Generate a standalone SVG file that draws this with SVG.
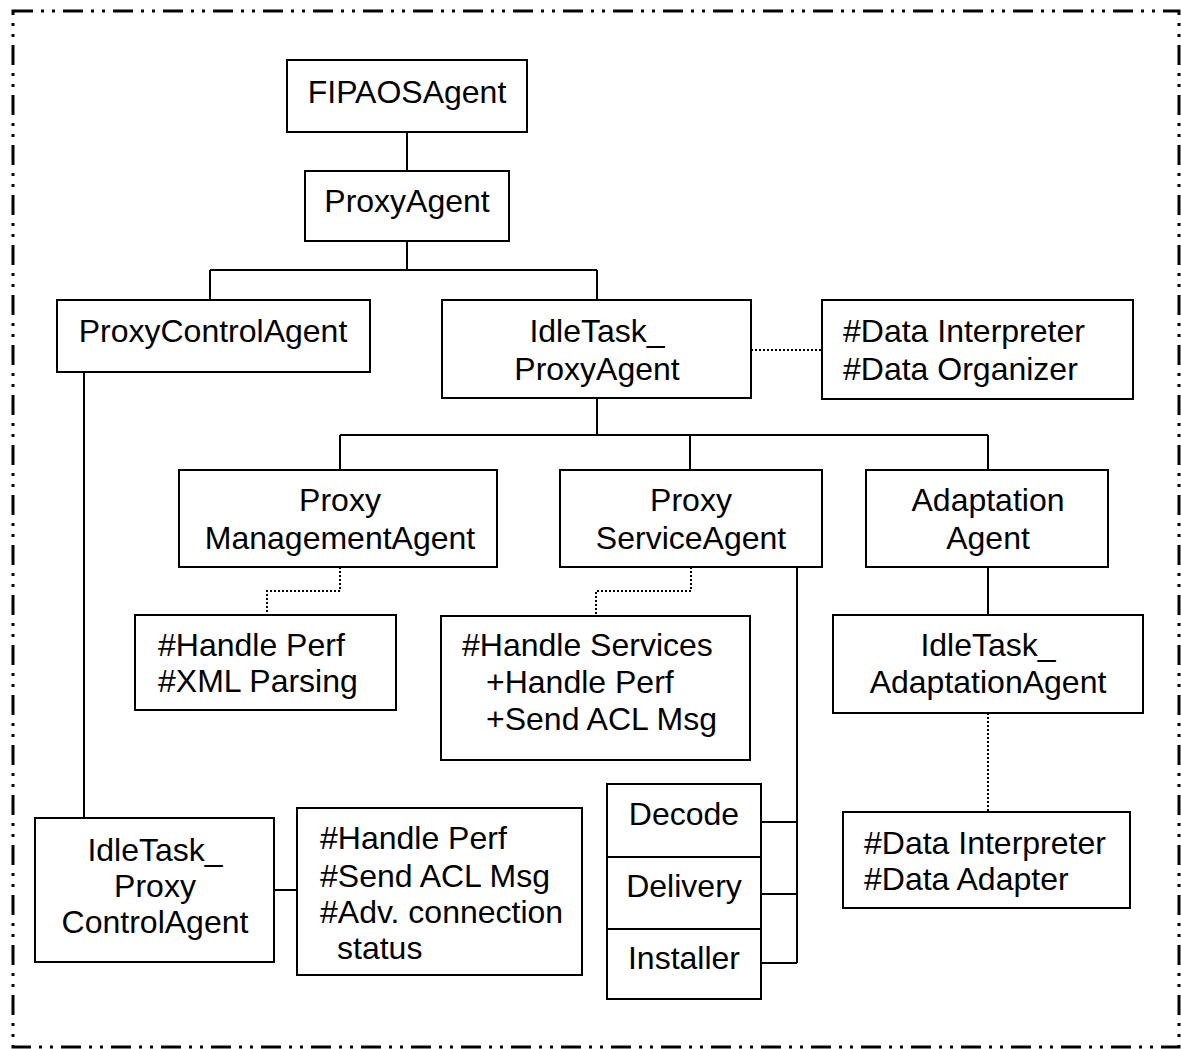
<svg xmlns="http://www.w3.org/2000/svg" width="1181" height="1049" viewBox="0 0 1181 1049">
  <style>
    .box { fill: #fff; stroke: #000; stroke-width: 2; }
    .ln { fill: none; stroke: #000; stroke-width: 2; }
    .dot { fill: none; stroke: #000; stroke-width: 2; stroke-dasharray: 2 2; }
    .frame { fill: none; stroke: #000; stroke-width: 3; stroke-dasharray: 20 8 3 8 3 8; }
    text { font-family: "Liberation Sans", Arial, sans-serif; font-size: 32px; fill: #000; }
    .c { text-anchor: middle; }
  </style>

  <!-- outer frame -->
  <rect class="frame" x="13" y="11" width="1166" height="1036"/>

  <!-- connectors -->
  <g id="connectors">
    <path class="ln" d="M407 132 V171"/>
    <path class="ln" d="M407 241 V270 M210 270 H597 M210 270 V300 M597 270 V300"/>
    <path class="dot" d="M751 350 H822"/>
    <path class="ln" d="M597 398 V435 M340 435 H988 M340 435 V470 M690 435 V470 M988 435 V470"/>
    <path class="dot" d="M340 567 V591 H267 V615"/>
    <path class="dot" d="M691 567 V591 H596 V616"/>
    <path class="ln" d="M797 567 V963 M761 822 H797 M761 894 H797 M761 963 H797"/>
    <path class="ln" d="M988 567 V615"/>
    <path class="dot" d="M988 713 V812"/>
    <path class="ln" d="M84 372 V818"/>
    <path class="ln" d="M274 890 H297"/>
  </g>

  <g id="fipaos">
    <rect class="box" x="287" y="60" width="240" height="72"/>
    <text class="c" x="407" y="103">FIPAOSAgent</text>
  </g>

  <g id="proxyAgent">
    <rect class="box" x="305" y="171" width="204" height="70"/>
    <text class="c" x="407" y="212">ProxyAgent</text>
  </g>

  <g id="proxyControlAgent">
    <rect class="box" x="57" y="300" width="313" height="72"/>
    <text class="c" x="213" y="342">ProxyControlAgent</text>
  </g>

  <g id="idleTaskProxyAgent">
    <rect class="box" x="442" y="300" width="309" height="98"/>
    <text class="c" x="597" y="342">IdleTask_</text>
    <text class="c" x="597" y="380">ProxyAgent</text>
  </g>

  <g id="proxyAgentMethods">
    <rect class="box" x="822" y="300" width="311" height="99"/>
    <text x="843" y="342">#Data Interpreter</text>
    <text x="843" y="380">#Data Organizer</text>
  </g>

  <g id="proxyManagementAgent">
    <rect class="box" x="179" y="470" width="318" height="97"/>
    <text class="c" x="340" y="511">Proxy</text>
    <text class="c" x="340" y="549">ManagementAgent</text>
  </g>

  <g id="proxyServiceAgent">
    <rect class="box" x="560" y="470" width="262" height="97"/>
    <text class="c" x="691" y="511">Proxy</text>
    <text class="c" x="691" y="549">ServiceAgent</text>
  </g>

  <g id="adaptationAgent">
    <rect class="box" x="866" y="470" width="242" height="97"/>
    <text class="c" x="988" y="511">Adaptation</text>
    <text class="c" x="988" y="549">Agent</text>
  </g>

  <g id="managementMethods">
    <rect class="box" x="135" y="615" width="261" height="95"/>
    <text x="158" y="656">#Handle Perf</text>
    <text x="158" y="692">#XML Parsing</text>
  </g>

  <g id="serviceMethods">
    <rect class="box" x="441" y="616" width="309" height="144"/>
    <text x="462" y="656">#Handle Services</text>
    <text x="486" y="693">+Handle Perf</text>
    <text x="486" y="730">+Send ACL Msg</text>
  </g>

  <g id="idleTaskAdaptationAgent">
    <rect class="box" x="833" y="615" width="310" height="98"/>
    <text class="c" x="988" y="656">IdleTask_</text>
    <text class="c" x="988" y="693">AdaptationAgent</text>
  </g>

  <g id="serviceComponents">
    <rect class="box" x="607" y="784" width="154" height="215"/>
    <path class="ln" d="M607 857 H761 M607 929 H761"/>
    <text class="c" x="684" y="825">Decode</text>
    <text class="c" x="684" y="897">Delivery</text>
    <text class="c" x="684" y="969">Installer</text>
  </g>

  <g id="adaptationMethods">
    <rect class="box" x="843" y="812" width="287" height="96"/>
    <text x="864" y="854">#Data Interpreter</text>
    <text x="864" y="890">#Data Adapter</text>
  </g>

  <g id="idleTaskProxyControlAgent">
    <rect class="box" x="35" y="818" width="239" height="144"/>
    <text class="c" x="155" y="861">IdleTask_</text>
    <text class="c" x="155" y="897">Proxy</text>
    <text class="c" x="155" y="933">ControlAgent</text>
  </g>

  <g id="controlMethods">
    <rect class="box" x="297" y="808" width="285" height="167"/>
    <text x="320" y="849">#Handle Perf</text>
    <text x="320" y="887">#Send ACL Msg</text>
    <text x="320" y="923">#Adv. connection</text>
    <text x="337" y="959">status</text>
  </g>
</svg>
